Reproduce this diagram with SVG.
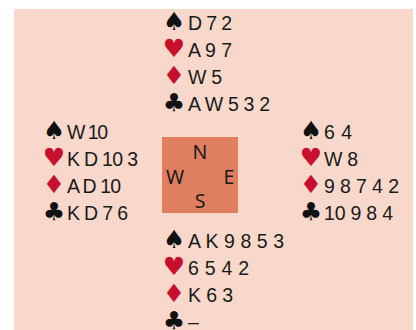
<svg xmlns="http://www.w3.org/2000/svg" width="416" height="330" viewBox="0 0 416 330">
<style>
.c{font-family:"Liberation Sans",Arial,sans-serif;font-size:19.5px;fill:#1a1a1a}
.s{font-family:"DejaVu Sans",sans-serif;font-size:25px;text-anchor:middle}
.b{fill:#111}
.r{fill:#c8102e}
.d{font-family:"Noto Sans","DejaVu Sans",sans-serif;font-size:19.5px;fill:#1a1a1a;text-anchor:middle}
</style>
<rect x="0" y="0" width="416" height="330" fill="#ffffff"/>
<rect x="14" y="9" width="399" height="321" fill="#f8d8ca"/>
<g id="north">
<text class="s b" x="174" y="30">♠</text><text class="c" x="188" y="30" textLength="44" lengthAdjust="spacing">D 7 2</text>
<text class="s r" x="174" y="57">♥</text><text class="c" x="188" y="57" textLength="44" lengthAdjust="spacing">A 9 7</text>
<text class="s r" x="174" y="84">♦</text><text class="c" x="188" y="84" textLength="34" lengthAdjust="spacing">W 5</text>
<text class="s b" x="174" y="111">♣</text><text class="c" x="188" y="111" textLength="82" lengthAdjust="spacing">A W 5 3 2</text>
</g>
<g id="west">
<text class="s b" x="54" y="139">♠</text><text class="c" x="67" y="139" textLength="41" lengthAdjust="spacing">W 10</text>
<text class="s r" x="54" y="166">♥</text><text class="c" x="67" y="166" textLength="71" lengthAdjust="spacing">K D 10 3</text>
<text class="s r" x="54" y="193">♦</text><text class="c" x="67" y="193" textLength="54" lengthAdjust="spacing">A D 10</text>
<text class="s b" x="54" y="220">♣</text><text class="c" x="67" y="220" textLength="61" lengthAdjust="spacing">K D 7 6</text>
</g>
<g id="east">
<text class="s b" x="311" y="139">♠</text><text class="c" x="324" y="139" textLength="28" lengthAdjust="spacing">6 4</text>
<text class="s r" x="311" y="166">♥</text><text class="c" x="324" y="166" textLength="34" lengthAdjust="spacing">W 8</text>
<text class="s r" x="311" y="193">♦</text><text class="c" x="324" y="193" textLength="75" lengthAdjust="spacing">9 8 7 4 2</text>
<text class="s b" x="311" y="220">♣</text><text class="c" x="324" y="220" textLength="69" lengthAdjust="spacing">10 9 8 4</text>
</g>
<g id="south">
<text class="s b" x="174" y="248">♠</text><text class="c" x="188" y="248" textLength="96" lengthAdjust="spacing">A K 9 8 5 3</text>
<text class="s r" x="174" y="275">♥</text><text class="c" x="188" y="275" textLength="61" lengthAdjust="spacing">6 5 4 2</text>
<text class="s r" x="174" y="302">♦</text><text class="c" x="188" y="302" textLength="45" lengthAdjust="spacing">K 6 3</text>
<text class="s b" x="174" y="329">♣</text><text class="c" x="188" y="329">–</text>
</g>
<g id="compass">
<rect x="162" y="137" width="76" height="76" fill="#e07f60"/>
<text class="d" x="200" y="159">N</text>
<text class="d" x="175" y="184">W</text>
<text class="d" x="229" y="184">E</text>
<text class="d" x="200" y="208">S</text>
</g>
</svg>
